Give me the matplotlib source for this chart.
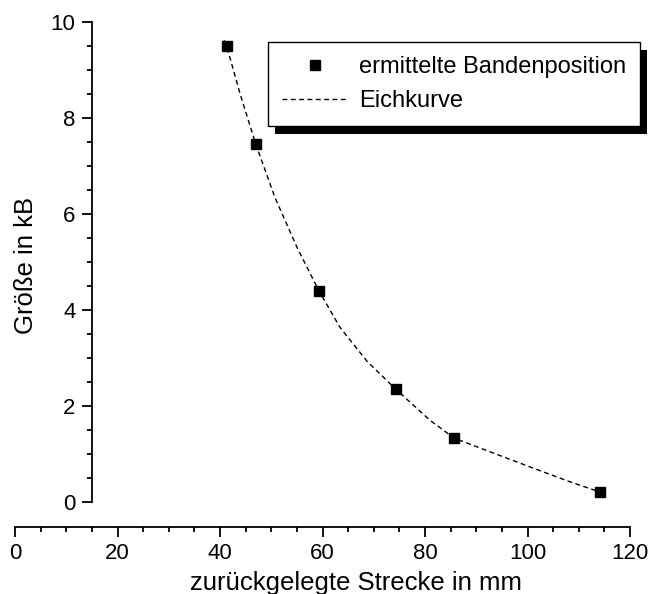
import matplotlib
matplotlib.use('Agg')
import matplotlib.pyplot as plt
from matplotlib.ticker import FixedLocator
from matplotlib.patches import Rectangle
from matplotlib.transforms import IdentityTransform

plt.rcParams['font.family'] = ['Liberation Sans', 'DejaVu Sans']

# Data
x_pts = [41.3, 47.0, 59.3, 74.3, 85.7, 114.1]
y_pts = [9.50, 7.45, 4.40, 2.35, 1.33, 0.21]

curve_x = [40.8, 41.3, 43.9, 47.0, 50.7, 55.0, 59.3, 63.4, 68.7, 74.3, 81.0,
           85.7, 92.1, 100.5, 108.3, 114.1]
curve_y = [9.62, 9.50, 8.51, 7.45, 6.35, 5.31, 4.40, 3.64, 2.93, 2.35, 1.70,
           1.33, 1.07, 0.73, 0.42, 0.21]

x_ticks = [0, 20, 40, 60, 80, 100, 120]
x_minor = [5, 10, 15, 25, 30, 35, 45, 50, 55, 65, 70, 75, 85, 90, 95, 105, 110, 115]
y_ticks = [0, 2, 4, 6, 8, 10]
y_minor = [0.5, 1, 1.5, 2.5, 3, 3.5, 4.5, 5, 5.5, 6.5, 7, 7.5, 8.5, 9, 9.5]

W, H = 651, 594
fig = plt.figure(figsize=(W / 100, H / 100), dpi=100)
ax = fig.add_axes([15 / W, 1 - 527 / H, 615 / W, 505 / H])
ax.set_xlim(0, 120)
ax.set_ylim(-25 / 48, 10)

for s in ['top', 'right']:
    ax.spines[s].set_visible(False)
ax.spines['left'].set_position(('data', 15))
ax.spines['left'].set_bounds(0, 10)
ax.spines['bottom'].set_bounds(0, 120)
for s in ['left', 'bottom']:
    ax.spines[s].set_linewidth(1.3)

ax.set_xticks(x_ticks)
ax.set_yticks(y_ticks)
ax.xaxis.set_minor_locator(FixedLocator(x_minor))
ax.yaxis.set_minor_locator(FixedLocator(y_minor))
ax.tick_params(which='both', direction='out', width=1.3, colors='black')
ax.tick_params(which='major', length=7.2, labelsize=16, pad=4.5)
ax.tick_params(which='minor', length=3.6)

line, = ax.plot(curve_x, curve_y, color='black', lw=1.0,
                linestyle=(0, (3.5, 2.5)), label='Eichkurve', zorder=2)
pts, = ax.plot(x_pts, y_pts, 's', color='black', ms=7.4,
               label='ermittelte Bandenposition', zorder=3)

ax.set_xlabel('zurückgelegte Strecke in mm', fontsize=18.5)
ax.set_ylabel('Größe in kB', fontsize=18.5)
ax.xaxis.set_label_coords(0.5545, -0.087)
ax.yaxis.set_label_coords(0.038, 0.518)

leg = ax.legend([pts, line], ['ermittelte Bandenposition', 'Eichkurve'],
                loc='upper left', bbox_to_anchor=(268 / W, 1 - 42 / H),
                bbox_transform=fig.transFigure, borderaxespad=0,
                frameon=True, fancybox=False, framealpha=1, edgecolor='black',
                fontsize=17, handlelength=2.75, handletextpad=0.5,
                borderpad=0.6, labelspacing=0.5, numpoints=1)
leg.get_frame().set_linewidth(1.0)
leg.set_zorder(5)

fig.canvas.draw()
bb = leg.get_window_extent()
shadow = Rectangle((bb.x0 + 7, bb.y0 - 8), bb.width, bb.height,
                   transform=IdentityTransform(), facecolor='black',
                   edgecolor='none', zorder=4.9, clip_on=False)
ax.add_patch(shadow)

fig.savefig('out.png', dpi=100)
